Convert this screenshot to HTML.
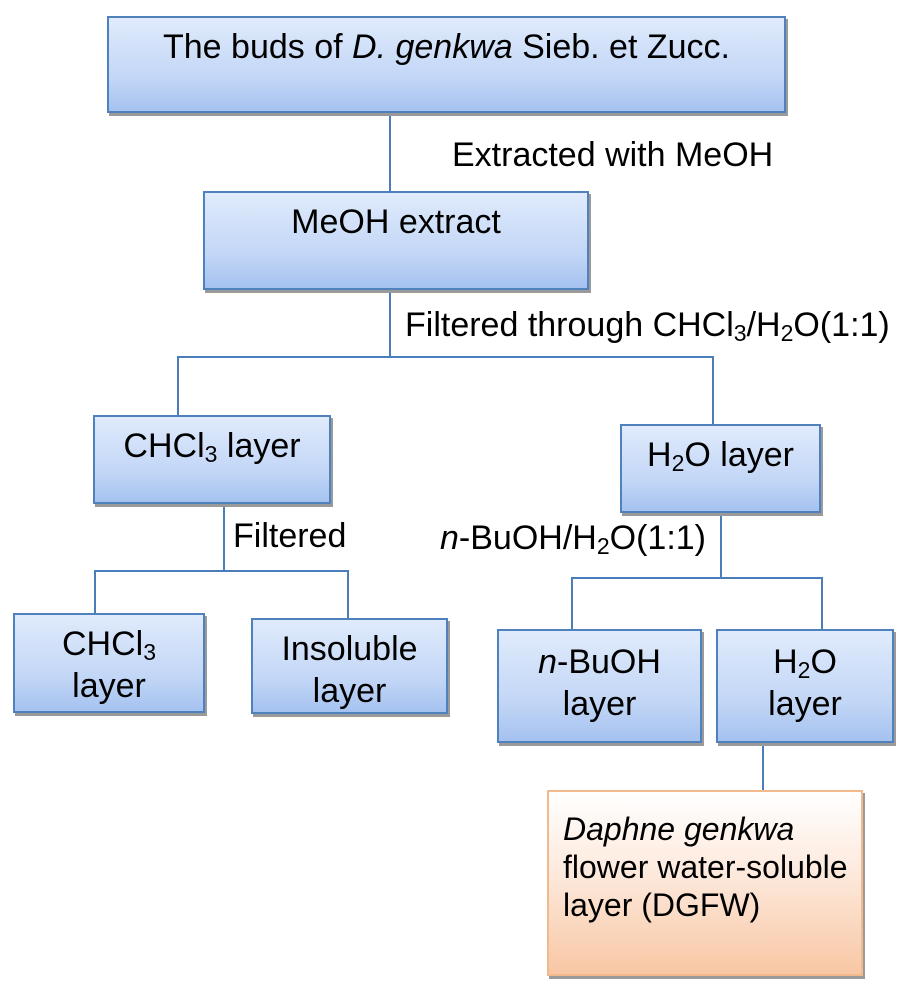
<!DOCTYPE html>
<html><head><meta charset="utf-8"><style>
body{margin:0;width:915px;height:1000px;background:#fff;position:relative;font-family:"Liberation Sans",sans-serif;color:#000;overflow:hidden}
.b{position:absolute;box-sizing:border-box;border:2px solid #4f81bd;background:linear-gradient(#e0ebfc,#c2d6f6 65%,#a5c2f0);box-shadow:2px 3px 0 #9a9a9a;text-align:center;font-size:34px;line-height:42px;white-space:nowrap}
.o{border-color:#f2b98c;background:linear-gradient(#fff,#fde9dc 45%,#f8c7a4);text-align:left;padding-left:14px;line-height:38px;padding-top:18px;font-size:32px}
.l{position:absolute;background:#4a7ebb}
.t{position:absolute;font-size:34px;white-space:nowrap}
sub{font-size:23px;vertical-align:-5px;line-height:0}
</style></head><body>
<div class="l" style="left:389px;top:110px;width:2px;height:84px"></div>
<div class="l" style="left:389px;top:288px;width:2px;height:70px"></div>
<div class="l" style="left:177px;top:356px;width:537px;height:2px"></div>
<div class="l" style="left:177px;top:356px;width:2px;height:62px"></div>
<div class="l" style="left:712px;top:356px;width:2px;height:70px"></div>
<div class="l" style="left:223px;top:501px;width:2px;height:70px"></div>
<div class="l" style="left:94px;top:570px;width:255px;height:2px"></div>
<div class="l" style="left:94px;top:570px;width:2px;height:45px"></div>
<div class="l" style="left:347px;top:570px;width:2px;height:48px"></div>
<div class="l" style="left:720px;top:510px;width:2px;height:69px"></div>
<div class="l" style="left:571px;top:577px;width:252px;height:2px"></div>
<div class="l" style="left:571px;top:577px;width:2px;height:53px"></div>
<div class="l" style="left:821px;top:577px;width:2px;height:53px"></div>
<div class="l" style="left:762px;top:740px;width:2px;height:52px"></div>

<div class="b" style="left:107px;top:16px;width:679px;height:97px;padding-top:8px">The buds of <i>D. genkwa</i> Sieb. et Zucc.</div>
<div class="t" style="left:452px;top:136px">Extracted with MeOH</div>
<div class="b" style="left:203px;top:191px;width:386px;height:99px;padding-top:8px">MeOH extract</div>
<div class="t" style="left:405px;top:306px">Filtered through CHCl<sub>3</sub>/H<sub>2</sub>O(1:1)</div>
<div class="b" style="left:93px;top:415px;width:238px;height:89px;padding-top:8px">CHCl<sub>3</sub> layer</div>
<div class="b" style="left:620px;top:424px;width:201px;height:89px;padding-top:8px">H<sub>2</sub>O layer</div>
<div class="t" style="left:233px;top:517px">Filtered</div>
<div class="t" style="left:440px;top:519px"><i>n</i>-BuOH/H<sub>2</sub>O(1:1)</div>
<div class="b" style="left:13px;top:613px;width:192px;height:100px;padding-top:8px">CHCl<sub>3</sub><br>layer</div>
<div class="b" style="left:251px;top:618px;width:197px;height:96px;padding-top:8px">Insoluble<br>layer</div>
<div class="b" style="left:497px;top:629px;width:205px;height:114px;padding-top:10px"><i>n</i>-BuOH<br>layer</div>
<div class="b" style="left:716px;top:629px;width:178px;height:114px;padding-top:10px">H<sub>2</sub>O<br>layer</div>
<div class="b o" style="left:547px;top:790px;width:316px;height:186px"><i>Daphne genkwa</i><br>flower water-soluble<br>layer (DGFW)</div>
</body></html>
